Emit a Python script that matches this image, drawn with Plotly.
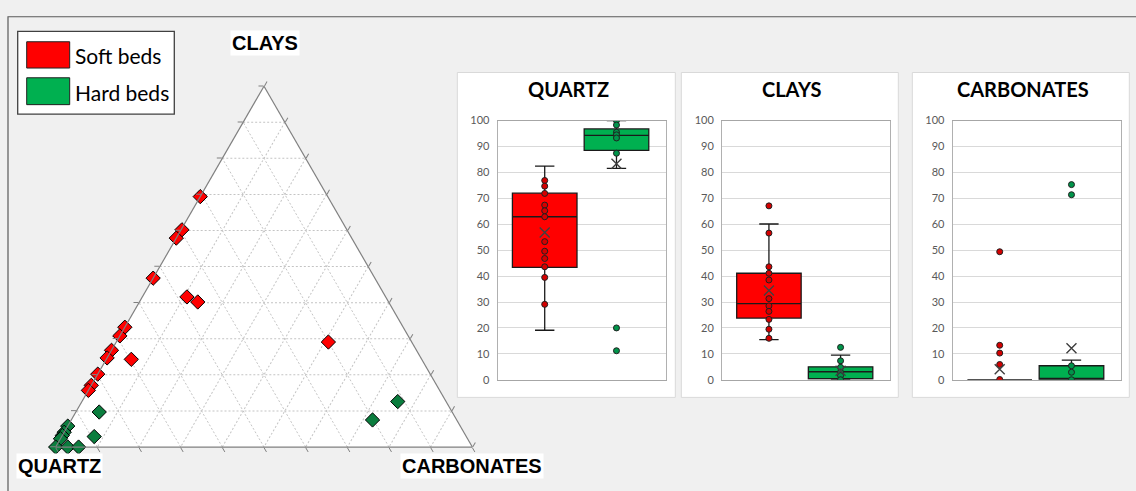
import plotly.graph_objects as go

W, H = 1136, 491

# ---- Ternary data (percent, normalised) ----
soft_clays = [69.4, 60.2, 57.9, 46.8, 41.6, 40.2, 33.2, 30.8, 26.8, 24.7, 24.3, 20.2, 17.1, 15.7, 29.1]
soft_quartz = [30.6, 39.6, 42.1, 53.2, 47.7, 45.8, 66.8, 69.2, 73.2, 75.3, 69.7, 79.8, 82.9, 84.3, 20.0]
soft_carbs = [0.0, 0.2, 0.0, 0.0, 10.7, 14.0, 0.0, 0.0, 0.0, 0.0, 6.0, 0.0, 0.0, 0.0, 50.9]

hard_clays = [12.6, 7.5, 9.7, 2.9, 5.8, 4.1, 3.2, 2.3, 0.0, 0.0, 0.0]
hard_quartz = [11.6, 20.2, 84.7, 89.3, 94.2, 95.9, 96.8, 97.7, 100.0, 97.1, 94.5]
hard_carbs = [75.8, 72.3, 5.6, 7.8, 0.0, 0.0, 0.0, 0.0, 0.0, 2.9, 5.5]

# ---- Box plot data: individual values and box statistics ----
# stats order: lower whisker, Q1, median, Q3, upper whisker, mean
quartz_soft_pts = [76.9, 74.7, 71.9, 67.4, 65.2, 62.9, 53.3, 49.6, 46.8, 43.6, 39.5, 29.1]
quartz_soft_stats = [19.1, 43.4, 62.9, 72.0, 82.4, 56.8]
quartz_hard_pts = [100.0, 98.3, 95.5, 94.5, 93.3, 87.4, 20.0, 11.2]
quartz_hard_stats = [81.6, 88.5, 94.3, 96.8, 100.0, 83.4]

clays_soft_pts = [67.1, 56.6, 43.6, 41.1, 38.5, 31.3, 28.5, 26.4, 23.3, 19.5, 16.0]
clays_soft_stats = [15.5, 23.8, 29.4, 41.1, 60.1, 34.4]
clays_hard_pts = [12.5, 7.3, 4.8, 2.9, 1.6, 0.0]
clays_hard_stats = [0.0, 0.4, 3.1, 5.0, 9.5, 3.5]

carbs_soft_pts = [49.4, 13.3, 10.3, 5.9, 0.1]
carbs_soft_stats = [0.0, 0.0, 0.0, 0.0, 0.0, 4.1]
carbs_hard_pts = [75.3, 71.4, 5.4, 2.9, 0.0]
carbs_hard_stats = [0.0, 0.1, 0.5, 5.4, 7.6, 12.2]

panel_titles = ["QUARTZ", "CLAYS", "CARBONATES"]
vertex_labels = ["CLAYS", "QUARTZ", "CARBONATES"]
group_names = ["Soft beds", "Hard beds"]

RED = "#ff0000"
GREEN_FILL = "#00b050"
GREEN_MARK = "#0b7d3e"
PT_RED = "#d40000"
PT_GREEN = "#00944a"
MEAN_COLOR = "#404040"


def fx(px):
    return px / W


def fy(py):
    return 1 - py / H


fig = go.Figure()

# ---- Ternary diagram ----
fig.add_trace(go.Scatterternary(
    a=soft_clays, b=soft_quartz, c=soft_carbs, mode="markers", name=group_names[0],
    marker=dict(symbol="diamond", size=11, color=RED, line=dict(color="#000000", width=1)),
    cliponaxis=False, showlegend=False, subplot="ternary"))
fig.add_trace(go.Scatterternary(
    a=hard_clays, b=hard_quartz, c=hard_carbs, mode="markers", name=group_names[1],
    marker=dict(symbol="diamond", size=11, color=GREEN_MARK, line=dict(color="#000000", width=1)),
    cliponaxis=False, showlegend=False, subplot="ternary"))

tern_axis = dict(showticklabels=False, ticks="outside", ticklen=5, tickcolor="#808080",
                 linecolor="#808080", linewidth=1.2, showgrid=True, gridcolor="#c4c4c4",
                 griddash="2px,2px", gridwidth=1, tick0=0, dtick=10, title=dict(text=""))
tri_left, tri_right, tri_bottom = 50, 478, 452
tri_h = (tri_right - tri_left) * 3 ** 0.5 / 2
fig.update_layout(ternary=dict(
    sum=100, bgcolor="#ffffff",
    domain=dict(x=[fx(tri_left), fx(tri_right)], y=[fy(tri_bottom), fy(tri_bottom - tri_h)]),
    aaxis=tern_axis, baxis=tern_axis, caxis=tern_axis))

# ---- Box plot panels ----
panels = [
    (quartz_soft_pts, quartz_soft_stats, quartz_hard_pts, quartz_hard_stats, 497.7, 666.0),
    (clays_soft_pts, clays_soft_stats, clays_hard_pts, clays_hard_stats, 722.0, 890.0),
    (carbs_soft_pts, carbs_soft_stats, carbs_hard_pts, carbs_hard_stats, 952.7, 1121.0),
]
panel_frames = [(457.3, 675.3), (681.3, 898.3), (912.3, 1129.3)]
plot_top, plot_bottom = 116.7, 382.9

shapes = []
annotations = []

for i, (sp, ss, hp, hs, x0, x1) in enumerate(panels):
    n = "" if i == 0 else str(i + 1)
    xa, ya = "x" + n, "y" + n
    for pos, pts, st, fill, ptc in [(0, sp, ss, RED, PT_RED), (1, hp, hs, GREEN_FILL, PT_GREEN)]:
        fig.add_trace(go.Box(
            x=[pos], lowerfence=[st[0]], q1=[st[1]], median=[st[2]], q3=[st[3]],
            upperfence=[st[4]], width=0.9, whiskerwidth=0.3, fillcolor=fill,
            line=dict(color="#1a1a1a", width=1.3), boxpoints=False,
            showlegend=False, xaxis=xa, yaxis=ya, hoverinfo="skip"))
        fig.add_trace(go.Scatter(
            x=[pos] * len(pts), y=pts, mode="markers", showlegend=False,
            marker=dict(symbol="circle", size=6, color=ptc, line=dict(color="#202020", width=1)),
            xaxis=xa, yaxis=ya))
        fig.add_trace(go.Scatter(
            x=[pos], y=[st[5]], mode="markers", showlegend=False,
            marker=dict(symbol="x-thin-open", size=10, color=MEAN_COLOR,
                        line=dict(color=MEAN_COLOR, width=1.4)),
            xaxis=xa, yaxis=ya))
    fig.layout["xaxis" + n] = dict(
        domain=[fx(x0), fx(x1)], range=[-0.655, 1.69], showticklabels=False, showgrid=False,
        zeroline=False, showline=True, mirror=True, linecolor="#a6a6a6", linewidth=1,
        anchor=ya, fixedrange=True)
    fig.layout["yaxis" + n] = dict(
        domain=[fy(plot_bottom), fy(plot_top)], range=[0, 100], dtick=10, tick0=0,
        showgrid=True, gridcolor="#d9d9d9", gridwidth=1, zeroline=False, showline=True,
        mirror=True, linecolor="#b0b0b0", linewidth=1, ticks="", ticklabelstandoff=5,
        tickfont=dict(family="Lato", size=11, color="#595959"), anchor=xa, fixedrange=True)
    fx0, fx1 = panel_frames[i]
    shapes.append(dict(type="rect", xref="paper", yref="paper", x0=fx(fx0), x1=fx(fx1),
                       y0=fy(401), y1=fy(67.3), fillcolor="#ffffff",
                       line=dict(color="#d9d9d9", width=1), layer="below"))
    annotations.append(dict(text="<b>%s</b>" % panel_titles[i], xref="paper", yref="paper",
                            x=fx((fx0 + fx1) / 2 + 2), y=fy(84), showarrow=False,
                            font=dict(family="Lato", size=20, color="#000000"),
                            xanchor="center", yanchor="middle"))

# outer frame
shapes.append(dict(type="rect", xref="paper", yref="paper", x0=fx(8), x1=fx(1150),
                   y0=fy(505), y1=fy(10), line=dict(color="#595959", width=1.2),
                   fillcolor="rgba(0,0,0,0)", layer="below"))

# legend box with colour swatches
shapes.append(dict(type="rect", xref="paper", yref="paper", x0=fx(17.7), x1=fx(174.3),
                   y0=fy(110), y1=fy(25), fillcolor="#ffffff",
                   line=dict(color="#404040", width=1.3), layer="above"))
for (ya0, ya1, col) in [(35.7, 62.7, RED), (72.7, 100.3, GREEN_FILL)]:
    shapes.append(dict(type="rect", xref="paper", yref="paper", x0=fx(26.7), x1=fx(69.7),
                       y0=fy(ya1), y1=fy(ya0), fillcolor=col,
                       line=dict(color="#202020", width=1), layer="above"))
for name, yc in zip(group_names, [49.5, 87.5]):
    annotations.append(dict(text=name, xref="paper", yref="paper", x=fx(73), y=fy(yc),
                            showarrow=False, xanchor="left", yanchor="middle",
                            font=dict(family="Lato", size=21, color="#000000")))

# vertex labels
for text, (xc, yc) in zip(vertex_labels, [(265.3, 37), (59.5, 471.5), (471.5, 471.5)]):
    annotations.append(dict(text="<b>%s</b>" % text, xref="paper", yref="paper",
                            x=fx(xc), y=fy(yc), showarrow=False, xanchor="center",
                            yanchor="middle", bgcolor="#ffffff", borderpad=1,
                            font=dict(family="Liberation Sans", size=20, color="#000000")))

fig.update_layout(
    width=W, height=H, margin=dict(l=0, r=0, t=0, b=0),
    paper_bgcolor="#f0f0f0", plot_bgcolor="#ffffff",
    shapes=shapes, annotations=annotations, showlegend=False)

fig.write_html("out.html")
